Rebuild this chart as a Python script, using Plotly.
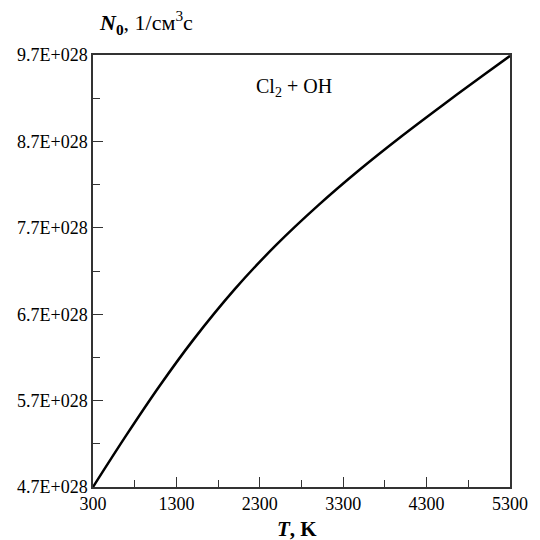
import plotly.graph_objects as go

# Data
T = [300, 700, 1100, 1500, 2000, 2500, 3000, 3500, 4000, 4500, 5000, 5300]
N0 = [4.70, 5.30, 5.872, 6.40, 6.99, 7.505, 7.96, 8.375, 8.76, 9.125, 9.48, 9.69]
N0_vals = [v * 1e28 for v in N0]

x_ticks = [300, 1300, 2300, 3300, 4300, 5300]
y_tick_vals = [4.7e28, 5.7e28, 6.7e28, 7.7e28, 8.7e28, 9.7e28]
y_tick_text = ["4.7E+028", "5.7E+028", "6.7E+028", "7.7E+028", "8.7E+028", "9.7E+028"]

FONT = "Liberation Serif"
AX = "#333333"

fig = go.Figure()
fig.add_trace(go.Scatter(x=T, y=N0_vals, mode="lines",
                         line=dict(color="black", width=2.5, shape="spline", smoothing=1.0),
                         showlegend=False, hoverinfo="skip"))

fig.update_layout(
    width=540, height=540,
    margin=dict(l=93, r=20, t=55, b=53),
    paper_bgcolor="white", plot_bgcolor="white",
    font=dict(family=FONT, size=18, color="black"),
    xaxis=dict(range=[300, 5300], tickvals=x_ticks, ticks="inside", ticklen=10,
               tickwidth=1, tickcolor=AX, showline=True, linecolor=AX, linewidth=1.5,
               mirror=True, showgrid=False, zeroline=False,
               tickfont=dict(family=FONT, size=18),
               minor=dict(ticks="inside", ticklen=7, tick0=800, dtick=1000,
                          tickcolor=AX, showgrid=False)),
    yaxis=dict(range=[4.7e28, 9.7e28], tickvals=y_tick_vals, ticktext=y_tick_text,
               ticks="inside", ticklen=10, tickwidth=1, tickcolor=AX,
               showline=True, linecolor=AX, linewidth=1.5, mirror=True,
               showgrid=False, zeroline=False, tickfont=dict(family=FONT, size=18),
               minor=dict(ticks="inside", ticklen=7, tick0=5.2e28, dtick=1e28,
                          tickcolor=AX, showgrid=False)),
    annotations=[
        dict(text="<b><i>N</i><sub>0</sub></b>, 1/см<sup>3</sup>с", xref="paper", yref="paper",
             x=0.01, y=1.075, xanchor="left", yanchor="middle", showarrow=False,
             font=dict(family=FONT, size=22)),
        dict(text="<b><i>T</i>, K</b>", xref="paper", yref="paper",
             x=0.49, y=-0.098, xanchor="center", yanchor="middle", showarrow=False,
             font=dict(family=FONT, size=21)),
        dict(text="Cl<sub>2</sub> + OH", xref="paper", yref="paper",
             x=0.385, y=0.925, xanchor="left", yanchor="middle", showarrow=False,
             font=dict(family=FONT, size=20)),
    ],
)

fig.write_html("out.html")
